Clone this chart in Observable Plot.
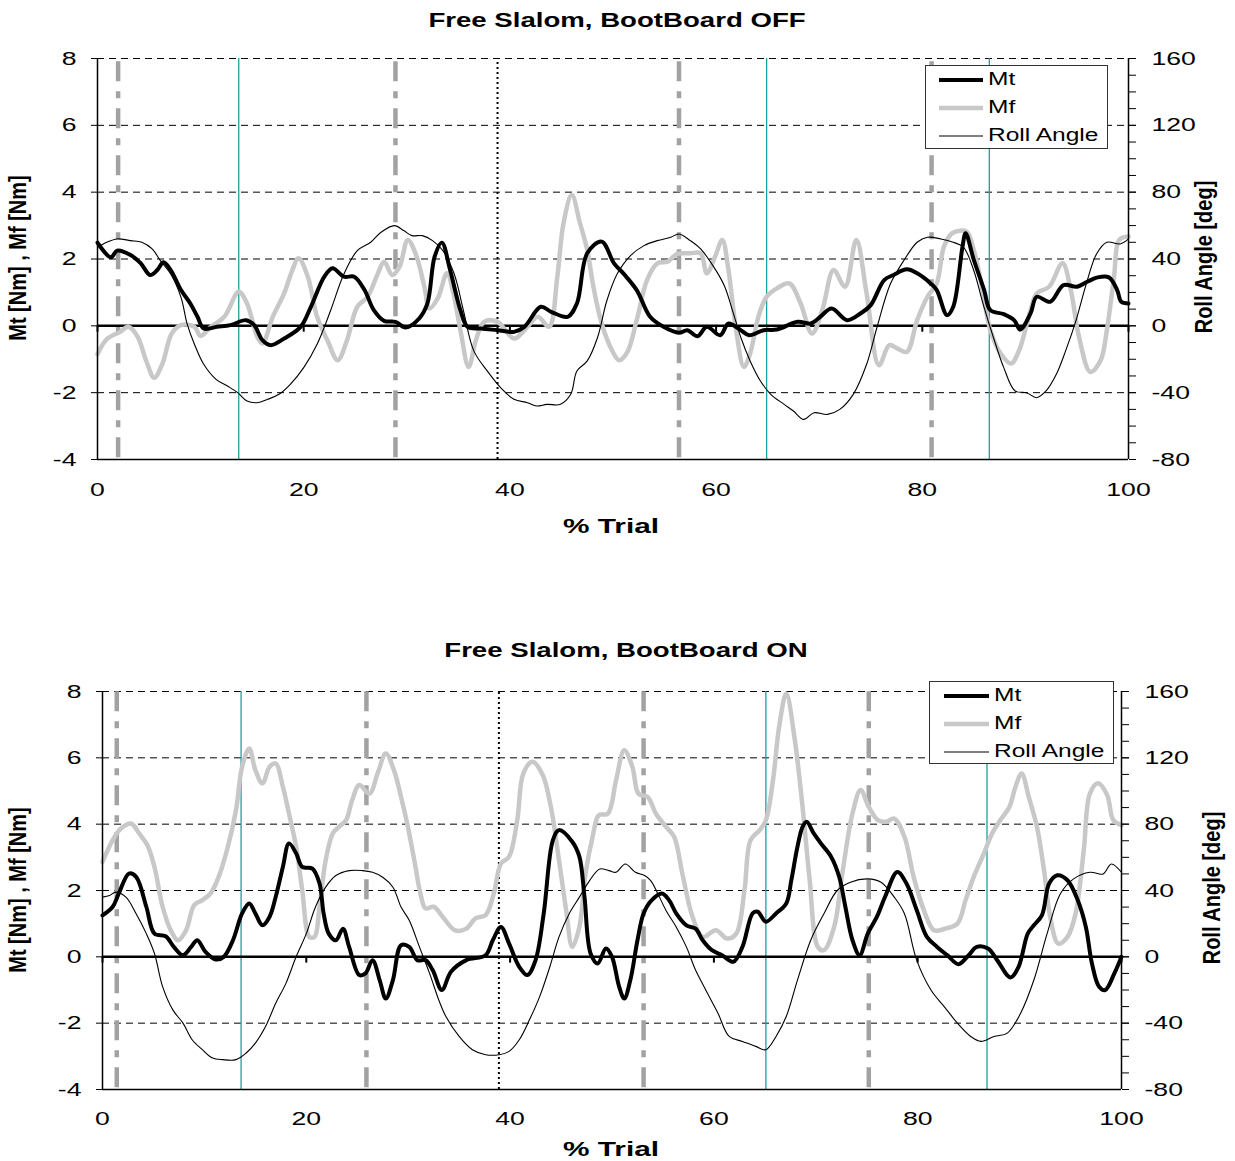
<!DOCTYPE html>
<html>
<head>
<meta charset="utf-8">
<script src="https://cdn.jsdelivr.net/npm/d3@7"></script>
<script src="https://cdn.jsdelivr.net/npm/@observablehq/plot@0.6"></script>
<style>
  body { margin: 0; background: #fff; font-family: "Liberation Sans", Arial, Helvetica, sans-serif; }
  #root { position: relative; width: 1235px; height: 1161px; overflow: hidden; background: #fff; }
  .abs { position: absolute; white-space: nowrap; line-height: 1; color: #000; }
  .title { font-weight: bold; font-size: 20px; transform: translate(-50%, -50%) scaleX(1.38); }
  .xlab { font-weight: bold; font-size: 21px; transform: translate(-50%, -50%) scaleX(1.42); }
  .ylab { font-weight: bold; font-size: 20px; transform: translate(-50%, -50%) rotate(-90deg) scaleY(1.2); }
  .legend { position: absolute; background: #fff; border: 1px solid #333; box-sizing: border-box; }
  .legend svg { position: absolute; left: 0; top: 0; }
  .ltxt { position: absolute; font-size: 17.5px; line-height: 1; white-space: nowrap; transform-origin: left center; transform: translateY(-50%) scaleX(1.4); }
</style>
</head>
<body>
<div id="root"></div>
<script>
// ---------------- DATA ----------------
// x = % Trial, value = moment [Nm] (Mt, Mf) or roll angle [deg]
const topMt = [[0,2.49],[1.3,2.05],[1.9,2.25],[3.2,2.12],[4.2,1.87],[5.1,1.52],[5.8,1.67],[6.4,1.9],[7.1,1.67],[8.1,1.07],[9.0,0.67],[9.7,0.27],[10.3,-0.08],[11.6,-0.03],[12.9,0.02],[14.4,0.17],[15.2,0.02],[16.0,-0.43],[16.8,-0.58],[18.1,-0.38],[19.7,-0.03],[20.7,0.57],[22.0,1.47],[22.8,1.72],[23.9,1.47],[24.9,1.47],[25.9,1.07],[26.8,0.47],[27.8,0.15],[28.9,0.12],[29.9,-0.05],[31.2,0.22],[32.0,0.67],[32.7,2.07],[33.4,2.49],[34.2,1.67],[35.2,0.47],[35.9,-0.03],[37.2,-0.08],[38.8,-0.13],[40.4,-0.18],[41.4,-0.03],[43.0,0.57],[44.0,0.42],[45.6,0.27],[46.5,0.67],[47.5,2.17],[48.9,2.52],[50.1,1.87],[51.0,1.57],[52.3,1.07],[53.6,0.27],[54.9,-0.03],[56.4,-0.21],[57.2,-0.13],[58.2,-0.31],[59.1,-0.03],[60.4,-0.28],[61.2,0.07],[62.4,-0.13],[63.2,-0.28],[64.6,-0.13],[65.9,-0.11],[67.9,0.12],[69.2,0.07],[70.1,0.27],[71.2,0.52],[72.7,0.17],[74.0,0.37],[75.0,0.62],[76.3,1.37],[77.2,1.52],[78.5,1.69],[79.5,1.57],[80.8,1.27],[81.4,1.07],[82.4,0.32],[83.0,0.57],[83.9,2.37],[84.2,2.77],[85.0,1.97],[86.0,1.07],[86.6,0.47],[87.9,0.35],[88.9,0.17],[89.5,-0.11],[90.5,0.37],[91.1,0.87],[92.4,0.72],[93.7,1.22],[95.0,1.17],[96.0,1.32],[97.0,1.45],[98.1,1.45],[98.9,1.07],[99.3,0.72],[100,0.67]];
const topMf = [[0,-0.85],[0.9,-0.4],[2.2,-0.18],[3.0,-0.03],[3.9,-0.33],[4.7,-1.03],[5.5,-1.55],[6.3,-1.13],[7.2,-0.23],[8.1,0.02],[9.4,-0.03],[10.0,-0.3],[11.0,-0.03],[12.3,0.27],[13.7,1.02],[14.5,0.67],[15.5,-0.33],[16.0,-0.53],[17.0,0.27],[18.1,0.97],[18.9,1.67],[19.5,2.02],[20.4,1.47],[21.3,0.27],[22.3,-0.43],[23.3,-1.03],[24.2,-0.43],[25.2,0.57],[26.2,0.87],[27.2,1.57],[27.8,1.92],[28.6,1.52],[29.3,1.77],[30.1,2.57],[30.9,2.12],[31.7,1.17],[32.2,0.52],[33.0,0.82],[33.9,1.57],[34.5,1.0],[35.2,-0.13],[36.0,-1.23],[36.7,-0.43],[37.5,0.12],[38.8,0.12],[40.4,-0.38],[41.7,-0.03],[42.7,0.27],[43.8,-0.03],[44.6,1.47],[45.2,3.07],[46.0,3.92],[46.8,3.07],[47.5,2.27],[48.1,1.17],[48.9,0.07],[49.9,-0.73],[50.6,-1.03],[51.4,-0.78],[52.3,0.17],[53.3,1.37],[54.3,1.87],[55.3,1.92],[56.2,2.15],[57.5,2.17],[58.5,2.17],[59.1,1.57],[59.9,2.07],[60.6,2.57],[61.2,1.67],[61.9,-0.03],[62.7,-1.23],[63.3,-0.83],[64.1,0.27],[64.9,0.87],[65.9,1.12],[67.1,1.27],[68.2,0.67],[69.3,-0.23],[70.3,0.47],[71.4,1.67],[72.5,1.17],[73.6,2.57],[74.6,0.97],[75.8,-1.18],[76.8,-0.58],[77.6,-0.68],[78.5,-0.78],[79.5,0.17],[80.5,0.87],[81.4,1.27],[82.1,2.37],[82.9,2.77],[84.3,2.82],[84.9,2.37],[85.6,1.47],[86.6,-0.13],[87.6,-0.83],[88.6,-1.13],[89.4,-0.73],[90.5,0.47],[91.1,0.97],[92.3,1.17],[93.6,1.87],[94.4,1.07],[95.2,-0.33],[96.3,-1.38],[97.3,-1.03],[97.9,-0.13],[98.6,1.47],[99.1,2.57],[100,2.67]];
const topRoll = [[0,47],[0.9,50],[1.9,52],[3.2,51],[4.3,50],[5.3,46],[6.1,39],[7.1,31],[8.1,17],[8.7,1],[9.4,-11],[10.3,-23],[11.5,-32],[12.6,-36],[13.6,-40],[14.5,-45],[15.5,-46],[16.5,-44],[17.6,-41],[18.7,-35],[20.0,-25],[21.3,-11],[22.6,9],[23.9,31],[25.2,45],[26.5,50],[27.5,56],[28.8,60],[29.7,57],[30.5,54],[31.5,54],[32.5,51],[33.5,45],[34.6,31],[35.5,9],[36.5,-15],[37.8,-27],[39.1,-37],[40.4,-44],[41.7,-46],[42.6,-48],[43.6,-47],[44.9,-47],[45.9,-41],[46.5,-27],[47.5,-21],[48.5,-7],[49.4,15],[50.4,31],[51.7,42],[53.0,48],[54.3,51],[55.6,53],[56.4,55],[57.5,51],[58.5,46],[59.8,35],[60.8,24],[61.6,9],[62.4,-7],[63.3,-21],[64.3,-33],[65.3,-41],[66.6,-47],[67.5,-51],[68.5,-56],[69.5,-52],[70.8,-53],[72.0,-50],[73.3,-41],[74.6,-23],[75.6,-1],[76.9,25],[78.2,39],[79.5,50],[80.5,53],[81.8,52],[83.0,50],[84.0,47],[85.0,33],[85.9,13],[86.9,-7],[87.9,-25],[89.0,-39],[90.1,-40],[91.1,-43],[92.0,-39],[93.0,-29],[93.9,-15],[94.9,3],[95.9,25],[96.9,43],[97.9,50],[99.2,49],[100,52]];

const botMt = [[0,1.25],[1.0,1.51],[1.6,1.91],[2.6,2.51],[3.3,2.41],[4.3,1.51],[5.1,0.70],[6.2,0.62],[7.0,0.30],[7.9,0.05],[8.7,0.30],[9.3,0.50],[10.1,0.15],[11.1,-0.08],[11.9,0],[12.8,0.5],[13.7,1.31],[14.4,1.61],[15.0,1.31],[15.7,0.95],[16.4,1.21],[17.0,1.81],[17.7,2.71],[18.3,3.42],[19.0,3.12],[19.6,2.71],[20.6,2.66],[21.3,2.21],[21.7,1.31],[22.2,0.70],[22.9,0.50],[23.6,0.85],[24.2,0.30],[25.2,-0.55],[25.8,-0.50],[26.5,-0.10],[27.2,-0.70],[27.8,-1.26],[28.5,-0.70],[29.3,0.35],[30.1,0.30],[30.9,-0.10],[31.7,-0.10],[32.4,-0.40],[33.3,-1.0],[34.2,-0.45],[35.7,-0.10],[37.6,0.05],[38.3,0.50],[39.1,0.90],[39.9,0.40],[40.9,-0.30],[41.7,-0.55],[42.5,-0.10],[43.3,1.31],[44.2,3.52],[44.8,3.82],[46.1,3.47],[46.8,3.02],[47.3,1.81],[47.9,0.10],[48.6,-0.20],[49.4,0.25],[50.0,0],[50.7,-0.90],[51.2,-1.26],[51.8,-0.70],[52.5,0.50],[53.1,1.31],[53.9,1.71],[54.9,1.91],[55.6,1.71],[56.3,1.31],[57.3,0.95],[58.2,0.85],[58.9,0.50],[59.8,0.20],[60.8,0.05],[61.9,-0.15],[62.8,0.30],[63.8,1.31],[64.3,1.36],[65.1,1.06],[66.1,1.31],[67.1,1.61],[67.6,2.31],[68.2,3.32],[68.7,3.92],[69.1,4.07],[69.8,3.72],[70.5,3.42],[71.5,3.02],[72.3,2.41],[72.9,1.51],[73.6,0.50],[74.3,0.05],[75.1,0.70],[76.0,1.21],[76.8,1.81],[78.0,2.56],[78.9,2.21],[79.9,1.41],[80.9,0.60],[81.9,0.30],[82.9,0.05],[84.0,-0.22],[85.0,0.05],[85.8,0.30],[86.9,0.25],[87.8,-0.10],[89.1,-0.62],[89.9,-0.30],[90.8,0.70],[91.4,0.95],[92.2,1.26],[92.9,2.21],[93.7,2.46],[94.7,2.31],[95.7,1.71],[96.5,0.90],[97.1,-0.20],[97.8,-0.90],[98.4,-1.0],[99.3,-0.50],[100,0]];
const botMf = [[0,2.86],[1.0,3.52],[1.8,3.87],[2.8,4.02],[3.6,3.72],[4.4,3.37],[5.1,2.71],[5.9,1.51],[6.7,0.80],[7.4,0.50],[8.2,0.80],[9.0,1.56],[9.8,1.71],[10.6,1.91],[11.4,2.41],[12.3,3.32],[13.1,4.42],[13.7,5.73],[14.4,6.28],[15.0,5.63],[15.7,5.23],[16.4,5.73],[17.0,5.83],[17.7,5.13],[18.3,4.32],[19.0,3.32],[19.6,2.01],[20.3,0.60],[20.8,0.60],[21.3,1.51],[21.9,2.91],[22.6,3.72],[23.2,3.92],[23.9,4.12],[24.5,4.72],[25.2,5.18],[26.2,4.92],[27.0,5.53],[27.8,6.13],[28.6,5.63],[29.3,4.82],[29.9,4.02],[30.6,2.91],[31.2,1.91],[31.7,1.46],[32.5,1.51],[33.4,1.2],[34.6,0.80],[35.7,0.85],[36.6,1.16],[37.6,1.26],[38.4,1.91],[39.1,2.81],[39.9,3.02],[40.7,4.12],[41.3,5.53],[42.2,5.88],[43.2,5.48],[44.0,4.52],[44.8,2.91],[45.5,1.41],[46.1,0.30],[46.8,0.90],[47.4,2.51],[48.1,3.62],[48.7,4.27],[49.6,4.32],[50.4,5.33],[51.2,6.23],[52.0,5.73],[52.6,4.92],[53.5,4.82],[54.3,4.32],[55.3,3.92],[56.1,3.62],[56.9,2.51],[57.9,1.21],[58.9,0.60],[60.2,0.80],[61.3,0.55],[62.2,0.70],[63.0,2.01],[63.6,3.52],[64.5,3.82],[65.1,4.12],[65.8,5.33],[66.4,6.93],[67.1,7.94],[67.9,6.63],[68.7,4.52],[69.4,2.31],[70.2,0.30],[70.8,0.20],[71.8,0.90],[72.6,2.51],[73.6,4.32],[74.4,5.03],[75.2,4.52],[76.1,4.12],[76.9,4.07],[77.7,4.17],[78.7,3.62],[79.6,2.41],[80.6,1.41],[81.6,0.80],[82.7,0.85],[83.9,1.0],[84.7,1.71],[85.5,2.41],[86.5,3.12],[87.3,3.72],[88.1,4.12],[89.0,4.52],[89.6,5.13],[90.2,5.53],[90.9,4.82],[91.7,3.92],[92.4,2.61],[93.0,1.21],[93.8,0.40],[94.7,0.60],[95.5,1.31],[96.3,3.22],[96.9,4.92],[97.7,5.23],[98.6,4.87],[99.2,4.12],[100,3.97]];
const botRoll = [[0,36],[0.7,37],[1.3,39],[2.3,36],[3.3,26],[4.3,14],[5.1,2],[5.9,-18],[6.9,-32],[7.9,-40],[8.8,-50],[9.8,-56],[10.8,-61],[11.8,-62],[13.1,-62],[14.1,-58],[15.0,-52],[16.0,-42],[17.0,-28],[18.0,-16],[19.0,0],[20.0,14],[20.9,30],[21.9,42],[22.9,49],[24.2,52],[25.5,52],[26.5,51],[27.5,48],[28.5,42],[29.3,30],[30.1,22],[31.1,6],[32.1,-10],[33.0,-26],[33.7,-36],[35.0,-48],[36.3,-56],[37.6,-59],[38.9,-59],[39.9,-57],[40.9,-50],[41.9,-38],[42.9,-24],[43.9,-6],[44.8,12],[45.8,26],[46.8,36],[47.8,46],[48.8,53],[49.7,52],[50.4,51],[51.3,56],[52.3,51],[53.2,49],[53.8,46],[54.5,38],[55.3,28],[56.3,18],[57.3,6],[58.2,-8],[59.2,-20],[60.4,-34],[61.5,-48],[62.8,-51],[64.1,-54],[65.1,-56],[66.1,-48],[67.1,-36],[68.2,-14],[69.5,10],[70.8,26],[72.1,40],[73.4,45],[75.1,47],[76.4,45],[77.7,36],[78.7,26],[79.9,-2],[81.3,-20],[82.6,-30],[83.9,-40],[85.2,-48],[86.2,-51],[87.5,-48],[88.8,-46],[90.1,-34],[91.4,-14],[92.7,14],[94.0,38],[95.3,47],[96.9,51],[98.2,50],[99.0,56],[100,51]];

// event markers (% Trial)
const topDashDot = [2.0, 28.9, 56.4, 80.9];
const topTeal = [13.7, 64.9, 86.5];
const topDotted = [38.8];
const botDashDot = [1.4, 25.9, 53.1, 75.2];
const botTeal = [13.6, 65.1, 86.8];
const botDotted = [38.9];

// axes / tick labels
const xTicks = [0, 20, 40, 60, 80, 100];
const momentTicks = [-4, -2, 0, 2, 4, 6, 8];
const gridLevels = [-2, 2, 4, 6, 8];
const rollTicks = [-80, -40, 0, 40, 80, 120, 160];
const rollMinor = [-80,-70,-60,-50,-40,-30,-20,-10,0,10,20,30,40,50,60,70,80,90,100,110,120,130,140,150,160];
const DEG_PER_NM = 20; // right axis: 160 deg <-> 8 Nm

const titles = ["Free Slalom, BootBoard OFF", "Free Slalom, BootBoard ON"];
const legendLabels = ["Mt", "Mf", "Roll Angle"];

// ---------------- DRAWING ----------------
const C = { mt: "#000000", mf: "#c8c8c8", roll: "#000000", dashdot: "#a2a2a2", teal: "#1f9f9f" };
const root = document.getElementById("root");

function chart(o) {
  const svg = Plot.plot({
    width: 1235, height: o.height,
    marginTop: o.mt, marginBottom: o.mb, marginLeft: o.ml, marginRight: o.mr,
    x: { domain: [0, 100] },
    y: { domain: [-4, 8] },
    style: { fontFamily: '"Liberation Sans", Arial, sans-serif', fontSize: "19px", background: "transparent", overflow: "visible", color: "#000" },
    marks: [
      Plot.ruleY(gridLevels, { stroke: "#000", strokeWidth: 1, strokeDasharray: "7,5" }),
      Plot.ruleX(o.dashdot, { y1: -3.95, y2: 8, stroke: C.dashdot, strokeWidth: 4.5, strokeDasharray: "20,10,7,10" }),
      Plot.ruleX(o.teal, { y1: -4, y2: 8, stroke: C.teal, strokeWidth: 1.3 }),
      Plot.ruleX(o.dotted, { y1: -4, y2: 8, stroke: "#000", strokeWidth: 2, strokeDasharray: "2,3" }),
      Plot.ruleY([0], { stroke: "#000", strokeWidth: 2.5 }),
      Plot.ruleX(xTicks, { y1: 0, y2: -0.19, stroke: "#000", strokeWidth: 2 }),
      Plot.line(o.mf, { x: d => d[0], y: d => d[1], stroke: C.mf, strokeWidth: 4.5, curve: "catmull-rom", strokeLinejoin: "round" }),
      Plot.line(o.roll, { x: d => d[0], y: d => d[1] / DEG_PER_NM, stroke: C.roll, strokeWidth: 1.1, curve: "catmull-rom" }),
      Plot.line(o.mtd, { x: d => d[0], y: d => d[1], stroke: C.mt, strokeWidth: 4, curve: "catmull-rom", strokeLinejoin: "round" }),
      Plot.ruleX([0, 100], { y1: -4, y2: 8, stroke: "#000", strokeWidth: 1.5 }),
      Plot.ruleY([-4], { stroke: "#000", strokeWidth: 1.5 }),
      Plot.axisY({ anchor: "left", ticks: momentTicks, tickSize: 6, tickPadding: 15, tickFormat: d => String(d), label: null }),
      Plot.axisY({ anchor: "right", ticks: rollMinor.map(d => d / DEG_PER_NM), tickSize: 7, tickFormat: () => "", label: null }),
      Plot.axisY({ anchor: "right", ticks: rollTicks.map(d => d / DEG_PER_NM), tickSize: 7, tickPadding: 16, tickFormat: d => String(Math.round(d * DEG_PER_NM)), label: null }),
      Plot.axisX({ anchor: "bottom", ticks: xTicks, tickSize: 0, tickPadding: o.xpad, tickFormat: d => String(d), label: null })
    ]
  });
  svg.querySelectorAll('g[aria-label="y-axis tick label"] text, g[aria-label="x-axis tick label"] text').forEach(t => {
    const tr = t.getAttribute("transform") || "";
    t.setAttribute("transform", tr + " scale(1.4,1)");
  });
  svg.style.position = "absolute";
  svg.style.left = "0px";
  svg.style.top = o.top + "px";
  root.appendChild(svg);
}

function text(cls, str, x, y) {
  const d = document.createElement("div");
  d.className = "abs " + cls;
  d.textContent = str;
  d.style.left = x + "px";
  d.style.top = y + "px";
  root.appendChild(d);
}

function legend(L) {
  const box = document.createElement("div");
  box.className = "legend";
  Object.assign(box.style, { left: L.x + "px", top: L.y + "px", width: L.w + "px", height: L.h + "px" });
  const ns = "http://www.w3.org/2000/svg";
  const s = document.createElementNS(ns, "svg");
  s.setAttribute("width", L.w); s.setAttribute("height", L.h);
  const styles = [[C.mt, 4], [C.mf, 4.5], [C.roll, 1.2]];
  legendLabels.forEach((lab, i) => {
    const ln = document.createElementNS(ns, "line");
    ln.setAttribute("x1", L.lx1); ln.setAttribute("x2", L.lx2);
    ln.setAttribute("y1", L.rows[i]); ln.setAttribute("y2", L.rows[i]);
    ln.setAttribute("stroke", styles[i][0]); ln.setAttribute("stroke-width", styles[i][1]);
    s.appendChild(ln);
    const t = document.createElement("div");
    t.className = "ltxt";
    t.textContent = lab;
    t.style.left = L.tx + "px";
    t.style.top = L.rows[i] + "px";
    box.appendChild(t);
  });
  box.insertBefore(s, box.firstChild);
  root.appendChild(box);
}

// top chart
chart({ top: 0, height: 540, mt: 58, mb: 81, ml: 97, mr: 107, xpad: 23,
        mtd: topMt, mf: topMf, roll: topRoll, dashdot: topDashDot, teal: topTeal, dotted: topDotted });
text("title", titles[0], 617, 20);
text("xlab", "% Trial", 611, 525);
text("ylab", "Mt [Nm] , Mf [Nm]", 18, 258);
text("ylab", "Roll Angle [deg]", 1204, 257);
legend({ x: 925, y: 65, w: 183, h: 84, lx1: 13, lx2: 57, tx: 62, rows: [14, 42, 70] });

// bottom chart
chart({ top: 630, height: 531, mt: 61, mb: 72, ml: 102, mr: 114, xpad: 22,
        mtd: botMt, mf: botMf, roll: botRoll, dashdot: botDashDot, teal: botTeal, dotted: botDotted });
text("title", titles[1], 626, 650);
text("xlab", "% Trial", 611, 1148);
text("ylab", "Mt [Nm] , Mf [Nm]", 18, 890);
text("ylab", "Roll Angle [deg]", 1212, 888);
legend({ x: 929, y: 681, w: 185, h: 83, lx1: 14, lx2: 59, tx: 64, rows: [14, 42, 70] });
</script>
</body>
</html>
